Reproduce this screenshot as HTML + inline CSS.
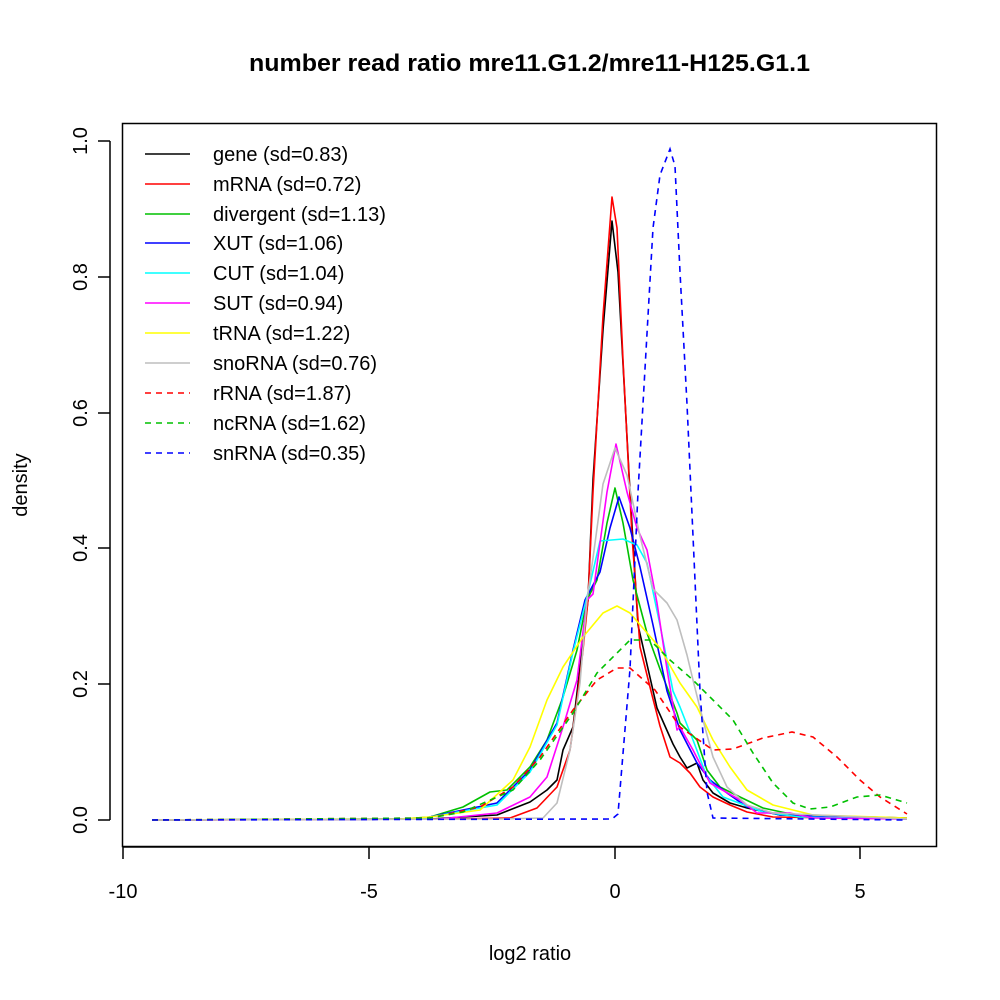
<!DOCTYPE html>
<html><head><meta charset="utf-8"><style>body{margin:0;background:#fff}svg{display:block}text{font-family:"Liberation Sans",sans-serif}</style></head><body>
<svg width="1000" height="1000" viewBox="0 0 1000 1000" xmlns="http://www.w3.org/2000/svg">
<rect width="1000" height="1000" fill="#fff"/>
<text x="249" y="71" font-size="24" font-weight="bold" textLength="561" lengthAdjust="spacingAndGlyphs">number read ratio mre11.G1.2/mre11-H125.G1.1</text>
<rect x="122.5" y="123.5" width="814" height="723" fill="none" stroke="#000" stroke-width="1.5"/>
<g stroke="#000" stroke-width="1.5">
<line x1="123" y1="847" x2="860" y2="847"/>
<line x1="123" y1="847" x2="123" y2="859"/><line x1="369" y1="847" x2="369" y2="859"/><line x1="615" y1="847" x2="615" y2="859"/><line x1="860" y1="847" x2="860" y2="859"/>
<line x1="110" y1="141" x2="110" y2="820"/>
<line x1="98" y1="820" x2="110" y2="820"/><line x1="98" y1="684" x2="110" y2="684"/><line x1="98" y1="548" x2="110" y2="548"/><line x1="98" y1="413" x2="110" y2="413"/><line x1="98" y1="277" x2="110" y2="277"/><line x1="98" y1="141" x2="110" y2="141"/>
</g>
<g font-size="20" text-anchor="middle">
<text x="123" y="898">-10</text><text x="369" y="898">-5</text><text x="615" y="898">0</text><text x="860" y="898">5</text>
<text x="530" y="960">log2 ratio</text>
<text transform="translate(87,820) rotate(-90)">0.0</text>
<text transform="translate(87,684) rotate(-90)">0.2</text>
<text transform="translate(87,548) rotate(-90)">0.4</text>
<text transform="translate(87,413) rotate(-90)">0.6</text>
<text transform="translate(87,277) rotate(-90)">0.8</text>
<text transform="translate(87,141) rotate(-90)">1.0</text>
<text transform="translate(27,485) rotate(-90)">density</text>
</g>
<g fill="none" stroke-width="1.6" stroke-linejoin="round">
<polyline stroke="#000" points="152,820 430,819 497,815 530,802 547,790 557,780 563,750 573,727 580,667 588,600 593,480 603,330 612,221 618,272 630,492 638,625 657,708 673,744 680,757 687,768 697,763 703,780 713,793 730,803 747,808 780,815 907,818"/>
<polyline stroke="#ff0000" points="152,820 450,819 510,818 537,808 557,787 570,750 577,700 583,650 588,600 593,492 603,316 612,197 617,228 623,360 632,536 640,647 652,695 660,726 670,757 680,763 690,773 700,787 713,797 730,805 747,812 773,817 907,819"/>
<polyline stroke="#00c000" points="152,820 400,819 430,817 463,807 490,792 507,790 530,767 547,740 563,697 577,650 587,600 597,580 607,523 615,488 623,523 633,580 647,633 660,669 677,713 680,723 697,740 707,770 720,787 740,797 763,808 800,816 907,819"/>
<polyline stroke="#0000ff" points="152,820 420,819 463,810 497,803 530,770 557,723 573,650 585,600 600,572 610,528 619,497 630,528 640,567 653,625 667,691 680,730 697,763 710,780 727,793 747,807 780,815 907,819"/>
<polyline stroke="#00ffff" points="152,820 420,819 463,811 497,805 530,772 557,725 573,652 587,597 600,541 623,539 637,545 647,563 660,625 673,691 680,707 693,740 707,777 723,797 763,812 800,817 907,819"/>
<polyline stroke="#ff00ff" points="152,820 440,819 497,813 530,797 547,777 563,727 577,680 587,600 593,594 607,492 616,444 627,492 637,528 647,550 657,603 667,669 677,730 680,727 693,750 710,783 740,800 757,813 790,813 813,818 907,819"/>
<polyline stroke="#ffff00" points="152,820 400,819 430,817 480,810 513,780 530,747 547,700 563,667 583,637 603,613 617,606 630,613 660,648 680,683 697,707 713,740 730,767 747,790 773,805 813,815 907,818"/>
<polyline stroke="#bebebe" points="152,820 500,819 543,818 557,803 570,750 580,683 587,600 593,558 603,484 615,448 627,475 640,536 653,589 667,603 677,620 687,655 693,680 703,720 713,757 727,787 747,805 773,813 907,819"/>
</g>
<g fill="none" stroke-width="1.6" stroke-dasharray="6,5">
<polyline stroke="#ff0000" points="152,820 430,818 480,807 513,787 540,757 573,710 597,680 617,668 630,668 655,690 680,727 713,750 733,749 763,738 792,732 813,737 837,757 860,780 880,797 907,814"/>
<polyline stroke="#00c000" points="152,820 430,818 463,812 513,790 540,760 573,713 597,673 630,640 650,640 670,660 693,680 713,700 733,720 753,753 773,783 793,803 810,809 830,807 857,797 880,795 907,803"/>
<polyline stroke="#0000ff" points="152,820 612,819 618,814 630,669 638,492 643,404 648,316 653,228 660,175 670,149 675,166 680,272 687,404 693,536 700,691 707,792 713,818 907,820"/>
</g>
<g stroke-width="1.6">
<line x1="145" y1="154" x2="190" y2="154" stroke="#000"/>
<line x1="145" y1="184" x2="190" y2="184" stroke="#ff0000"/>
<line x1="145" y1="214" x2="190" y2="214" stroke="#00c000"/>
<line x1="145" y1="243" x2="190" y2="243" stroke="#0000ff"/>
<line x1="145" y1="273" x2="190" y2="273" stroke="#00ffff"/>
<line x1="145" y1="303" x2="190" y2="303" stroke="#ff00ff"/>
<line x1="145" y1="333" x2="190" y2="333" stroke="#ffff00"/>
<line x1="145" y1="363" x2="190" y2="363" stroke="#bebebe"/>
<line x1="145" y1="393" x2="190" y2="393" stroke="#ff0000" stroke-dasharray="6,5"/>
<line x1="145" y1="423" x2="190" y2="423" stroke="#00c000" stroke-dasharray="6,5"/>
<line x1="145" y1="453" x2="190" y2="453" stroke="#0000ff" stroke-dasharray="6,5"/>
</g>
<g font-size="20">
<text x="213" y="161">gene (sd=0.83)</text>
<text x="213" y="191">mRNA (sd=0.72)</text>
<text x="213" y="221">divergent (sd=1.13)</text>
<text x="213" y="250">XUT (sd=1.06)</text>
<text x="213" y="280">CUT (sd=1.04)</text>
<text x="213" y="310">SUT (sd=0.94)</text>
<text x="213" y="340">tRNA (sd=1.22)</text>
<text x="213" y="370">snoRNA (sd=0.76)</text>
<text x="213" y="400">rRNA (sd=1.87)</text>
<text x="213" y="430">ncRNA (sd=1.62)</text>
<text x="213" y="460">snRNA (sd=0.35)</text>
</g>
</svg>
</body></html>
